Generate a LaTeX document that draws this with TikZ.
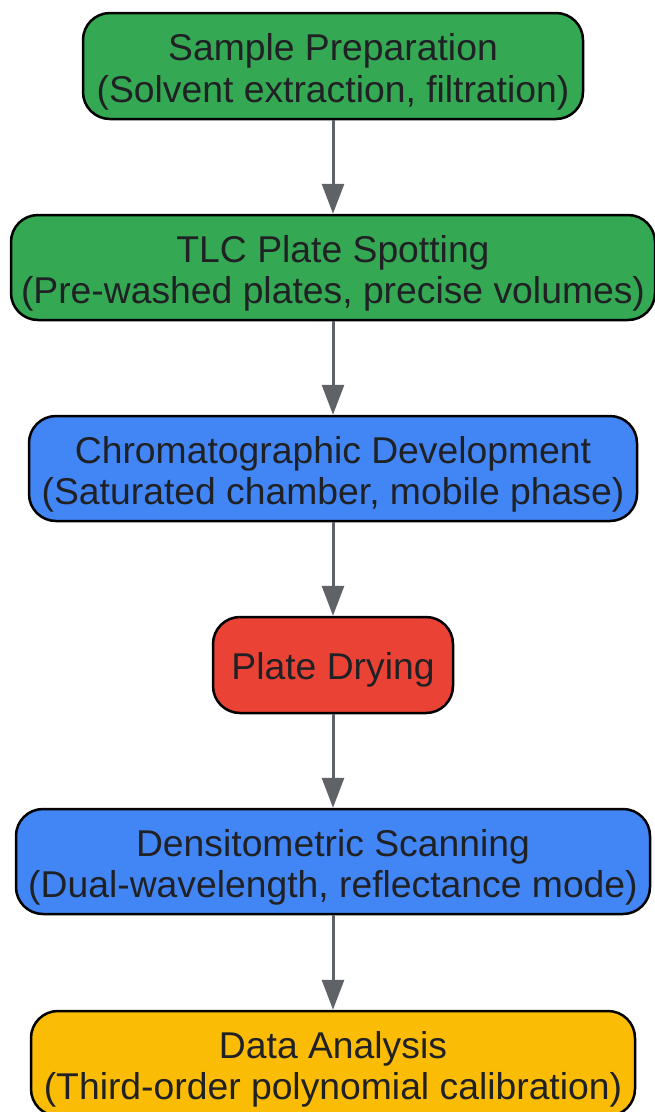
\documentclass[tikz,border=0pt]{standalone}
\usepackage{fontspec}
\setmainfont{Liberation Sans}
\usetikzlibrary{arrows.meta}
\definecolor{gGreen}{HTML}{34A853}
\definecolor{gBlue}{HTML}{4285F4}
\definecolor{gRed}{HTML}{EA4335}
\definecolor{gYellow}{HTML}{FBBC05}
\definecolor{txt}{HTML}{202124}
\definecolor{arr}{HTML}{5F6368}
\newcommand{\twolines}[2]{\begin{tabular}[t]{@{}c@{}}#1\\#2\end{tabular}}
\tikzset{
  stepbox/.style={draw=black, line width=2.5pt, rounded corners=27pt,
    inner sep=0pt, minimum height=105pt},
  lbl/.style={anchor=base, inner sep=0pt, text=txt, font=\fontsize{37.3}{41.5}\selectfont},
  conn/.style={draw=arr, line width=3pt, -{Triangle[width=22pt,length=30pt]}}
}
\begin{document}
\begin{tikzpicture}[x=1pt,y=-1pt]
\useasboundingbox (0,0) rectangle (655,1112);
\node[stepbox, fill=gGreen, minimum width=500pt, minimum height=106pt] (a) at (333,66) {};
\node[stepbox, fill=gGreen, minimum width=644pt] (b) at (333,267.5) {};
\node[stepbox, fill=gBlue, minimum width=608pt] (c) at (333,468.5) {};
\node[stepbox, fill=gRed, minimum width=240pt, minimum height=96pt] (d) at (333,665) {};
\node[stepbox, fill=gBlue, minimum width=634pt] (e) at (333,861.5) {};
\node[stepbox, fill=gYellow, minimum width=604pt] (f) at (333,1063.5) {};
\node[lbl] (ta) at ([yshift=5.5pt]a.center) {\twolines{Sample Preparation}{(Solvent extraction, filtration)}};
\node[lbl] (tb) at ([yshift=5.5pt]b.center) {\twolines{TLC Plate Spotting}{(Pre-washed plates, precise volumes)}};
\node[lbl] (tc) at ([yshift=5.5pt]c.center) {\twolines{Chromatographic Development}{(Saturated chamber, mobile phase)}};
\node[lbl] (td) at ([yshift=-14pt]d.center) {Plate Drying};
\node[lbl] (te) at ([yshift=5.5pt]e.center) {\twolines{Densitometric Scanning}{(Dual-wavelength, reflectance mode)}};
\node[lbl] (tf) at ([yshift=5.5pt]f.center) {\twolines{Data Analysis}{(Third-order polynomial calibration)}};
\draw[conn] (a) -- (b);
\draw[conn] (b) -- (c);
\draw[conn] (c) -- (d);
\draw[conn] (d) -- (e);
\draw[conn] (e) -- (f);
\end{tikzpicture}
\end{document}
